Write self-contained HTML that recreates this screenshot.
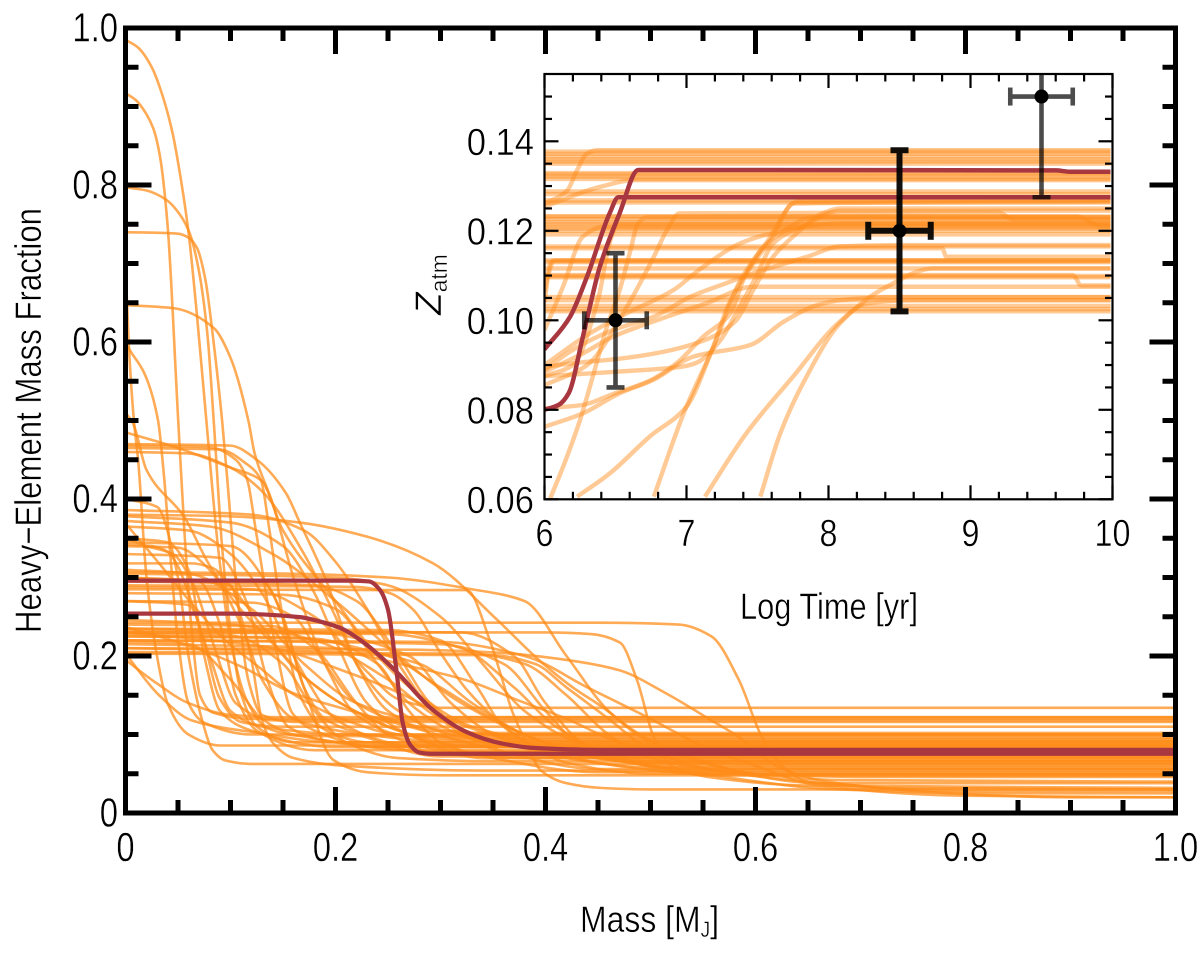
<!DOCTYPE html>
<html lang="en">
<head>
<meta charset="utf-8">
<title>Heavy-Element Mass Fraction vs Mass</title>
<style>
html,body{margin:0;padding:0;background:#fff;}
svg{display:block;}
text{font-family:"Liberation Sans",sans-serif;fill:#000;stroke:#fff;stroke-width:.45;}
.mass-line{fill:none;stroke:#ff8c1a;stroke-opacity:.74;stroke-width:2.6;stroke-linejoin:round;}
.time-line{fill:none;stroke:#ff8c1a;stroke-opacity:.46;stroke-width:4.4;stroke-linejoin:round;}
.red-mass{fill:none;stroke:#a8373f;stroke-width:4.2;}
.red-time{fill:none;stroke:#a8373f;stroke-width:4.5;}
</style>
</head>
<body>
<svg id="chart" xmlns="http://www.w3.org/2000/svg" width="1200" height="953" viewBox="0 0 1200 953">
  <defs>
    <clipPath id="main-clip"><rect x="125.5" y="28" width="1050" height="785"/></clipPath>
    <clipPath id="inset-clip"><rect x="544.5" y="74" width="566" height="425.3"/></clipPath>
  </defs>
  <rect x="0" y="0" width="1200" height="953" fill="#fff"/>
  <g id="main-series" clip-path="url(#main-clip)"></g>
  <g id="main-axes"></g>
  <rect x="544.5" y="74" width="568" height="425.3" fill="#fff"/>
  <g id="inset-series" clip-path="url(#inset-clip)"></g>
  <g id="inset-errors" clip-path="url(#inset-clip)"></g>
  <g id="inset-axes"></g>
  <text transform="translate(41,633) rotate(-90)" font-size="37" textLength="425" lengthAdjust="spacingAndGlyphs">Heavy−Element Mass Fraction</text>
  <text x="580" y="932" font-size="37" textLength="139" lengthAdjust="spacingAndGlyphs">Mass [M<tspan font-size="22" dy="5">J</tspan><tspan dy="-5">]</tspan></text>
  <text x="740" y="619" font-size="37" textLength="178" lengthAdjust="spacingAndGlyphs">Log Time [yr]</text>
  <text transform="translate(441,315) rotate(-90)" font-size="37"><tspan font-style="italic">Z</tspan><tspan font-size="23" dy="6">atm</tspan></text>
</svg>
<script>
const massTicksMajor = [0, 0.2, 0.4, 0.6, 0.8, 1.0];
const massTickLabels = ['0', '0.2', '0.4', '0.6', '0.8', '1.0'];
const fractionTicksMajor = [0, 0.2, 0.4, 0.6, 0.8, 1.0];
const fractionTickLabels = ['0', '0.2', '0.4', '0.6', '0.8', '1.0'];
const minorStepMain = 0.05;
const timeTicksMajor = [6, 7, 8, 9, 10];
const timeTickLabels = ['6', '7', '8', '9', '10'];
const zatmTicksMajor = [0.06, 0.08, 0.10, 0.12, 0.14];
const zatmTickLabels = ['0.06', '0.08', '0.10', '0.12', '0.14'];
const minorStepTime = 0.2;
const minorStepZatm = 0.005;

const massProfiles = [
[[0,.985],[.012,.975],[.025,.95],[.035,.915],[.045,.865],[.053,.805],[.06,.74],[.068,.635],[.077,.5],[.088,.34],[.1,.22],[.115,.145],[.135,.108],[.17,.098],[1,.098]],
[[0,.917],[.01,.908],[.02,.89],[.027,.87],[.033,.835],[.04,.75],[.05,.505],[.056,.361],[.063,.233],[.071,.15],[.083,.128],[.12,.12],[1,.12]],
[[0,.797],[.02,.793],[.039,.781],[.052,.762],[.061,.739],[.07,.69],[.078,.61],[.084,.5],[.092,.339],[.102,.212],[.111,.148],[.125,.11],[.16,.09],[1,.09]],
[[0,.74],[.05,.738],[.06,.733],[.068,.72],[.076,.68],[.083,.61],[.092,.5],[.097,.424],[.105,.297],[.117,.169],[.13,.125],[.16,.116],[1,.116]],
[[0,.647],[.046,.643],[.084,.618],[.1,.58],[.117,.5],[.123,.458],[.14,.395],[.16,.3],[.19,.19],[.22,.125],[.26,.1],[.32,.094],[1,.094]],
[[0,.6],[.004,.59],[.018,.56],[.031,.5],[.037,.424],[.042,.34],[.05,.22],[.06,.14],[.075,.115],[.12,.1],[1,.1]],
[[0,.7],[.003,.6],[.008,.5],[.012,.45],[.02,.3],[.03,.2],[.04,.14],[.06,.1],[.09,.086],[1,.086]],
[[0,.51],[.007,.497],[.02,.437],[.056,.377],[.079,.318],[.105,.267],[.143,.212],[.178,.165],[.21,.136],[.26,.105],[.33,.084],[1,.082]],
[[0,.485],[.05,.465],[.1,.44],[.129,.424],[.15,.36],[.2,.27],[.24,.2],[.28,.15],[.33,.11],[.4,.092],[1,.092]],
[[0,.47],[.1,.468],[.125,.45],[.153,.407],[.166,.37],[.19,.3],[.22,.19],[.25,.13],[.29,.105],[.35,.102],[1,.102]],
[[0,.46],[.06,.458],[.1,.44],[.13,.41],[.17,.33],[.2,.25],[.22,.19],[.26,.13],[.31,.1],[.38,.088],[1,.088]],
[[0,.468],[.08,.466],[.105,.45],[.116,.424],[.124,.361],[.137,.255],[.143,.212],[.159,.127],[.18,.105],[.24,.084],[1,.084]],
[[0,.465],[.09,.463],[.115,.445],[.129,.424],[.137,.361],[.149,.255],[.165,.153],[.19,.106],[.23,.09],[.3,.087],[1,.087]],
[[0,.38],[.1,.378],[.166,.37],[.23,.352],[.293,.318],[.354,.246],[.392,.197],[.426,.16],[.452,.137],[.49,.1],[.54,.07],[.6,.05],[.68,.042],[1,.04]],
[[0,.386],[.12,.38],[.17,.36],[.2,.32],[.23,.26],[.26,.19],[.3,.12],[.34,.09],[.42,.08],[1,.08]],
[[0,.378],[.1,.37],[.15,.34],[.18,.28],[.2,.22],[.23,.14],[.27,.1],[.33,.078],[1,.076]],
[[0,.372],[.08,.365],[.14,.33],[.2,.27],[.26,.2],[.32,.14],[.4,.09],[.5,.06],[.6,.05],[1,.05]],
[[0,.365],[.06,.36],[.1,.33],[.13,.28],[.16,.2],[.2,.12],[.25,.09],[.32,.074],[1,.074]],
[[0,.369],[.032,.318],[.063,.267],[.095,.22],[.127,.186],[.159,.152],[.21,.118],[.26,.1],[.33,.096],[1,.096]],
[[0,.34],[.05,.338],[.08,.31],[.11,.24],[.13,.17],[.16,.12],[.22,.1],[.3,.072],[1,.072]],
[[0,.342],[.025,.34],[.041,.332],[.05,.314],[.063,.268],[.076,.212],[.089,.148],[.11,.116],[.15,.11],[1,.11]],
[[0,.318],[.063,.318],[.083,.312],[.105,.281],[.127,.243],[.159,.187],[.19,.153],[.21,.136],[.26,.105],[.34,.07],[1,.07]],
[[0,.307],[.15,.305],[.25,.3],[.33,.285],[.38,.27],[.42,.2],[.46,.13],[.5,.09],[.56,.06],[.66,.038],[1,.038]],
[[0,.285],[.25,.284],[.325,.284],[.347,.22],[.357,.178],[.369,.127],[.382,.089],[.395,.055],[.42,.038],[.452,.032],[.5,.03],[1,.03]],
[[0,.305],[.2,.3],[.25,.29],[.3,.25],[.34,.19],[.38,.13],[.43,.09],[.5,.068],[1,.068]],
[[0,.295],[.18,.29],[.22,.27],[.26,.2],[.29,.14],[.33,.1],[.4,.08],[.5,.066],[1,.066]],
[[0,.28],[.15,.278],[.2,.26],[.24,.19],[.27,.14],[.32,.1],[.4,.08],[.5,.064],[1,.064]],
[[0,.27],[.12,.268],[.16,.25],[.19,.19],[.22,.14],[.28,.11],[.36,.1],[1,.1]],
[[0,.3],[.1,.29],[.11,.25],[.12,.195],[.13,.118],[.14,.09],[.16,.07],[.21,.06],[.35,.054],[1,.054]],
[[0,.298],[.13,.295],[.15,.25],[.17,.16],[.19,.12],[.23,.1],[.3,.092],[1,.092]],
[[0,.2424],[.45,.2424],[.527,.24],[.558,.225],[.584,.17],[.606,.097],[.625,.06],[.65,.04],[.72,.032],[1,.03]],
[[0,.23],[.4,.23],[.443,.228],[.471,.217],[.487,.17],[.503,.097],[.52,.06],[.56,.045],[.65,.035],[1,.032]],
[[0,.21],[.27,.208],[.357,.204],[.42,.195],[.47,.182],[.514,.153],[.558,.118],[.584,.097],[.62,.06],[.66,.042],[.75,.028],[.9,.02],[1,.02]],
[[0,.22],[.3,.218],[.38,.2],[.44,.16],[.5,.12],[.55,.085],[.6,.06],[.66,.035],[.8,.022],[1,.02]],
[[0,.203],[.35,.201],[.39,.19],[.42,.16],[.46,.12],[.5,.08],[.56,.055],[.65,.04],[.8,.028],[1,.028]],
[[0,.23],[.25,.228],[.32,.21],[.37,.16],[.41,.11],[.47,.07],[.55,.05],[.68,.03],[.85,.025],[1,.025]],
[[0,.225],[.15,.224],[.25,.2],[.3,.16],[.35,.12],[.4,.09],[.5,.065],[.6,.062],[1,.062]],
[[0,.215],[.2,.21],[.28,.19],[.33,.14],[.38,.1],[.45,.07],[.55,.06],[1,.06]],
[[0,.235],[.18,.23],[.27,.2],[.31,.14],[.35,.1],[.42,.07],[.5,.058],[1,.058]],
[[0,.237],[.063,.212],[.111,.186],[.159,.153],[.21,.132],[.27,.11],[.34,.085],[.45,.056],[1,.056]],
[[0,.203],[.032,.15],[.063,.118],[.127,.102],[.2,.09],[1,.09]],
[[0,.195],[.03,.165],[.06,.14],[.1,.125],[.15,.122],[1,.122]],
[[0,.4],[.03,.39],[.05,.3],[.06,.2],[.073,.118],[.083,.08],[.095,.067],[.12,.0625],[1,.0625]],
[[0,.345],[.1,.34],[.14,.28],[.17,.16],[.198,.0675],[.23,.052],[.3,.048],[1,.048]],
[[0,.3],[.07,.295],[.09,.24],[.105,.15],[.125,.105],[.18,.08],[1,.08]],
[[0,.35],[.04,.345],[.06,.31],[.075,.2],[.09,.13],[.12,.105],[.2,.084],[1,.084]],
[[0,.33],[.09,.325],[.115,.27],[.135,.17],[.155,.11],[.2,.09],[.3,.078],[1,.078]],
[[0,.24],[.14,.238],[.18,.21],[.22,.14],[.25,.1],[.3,.08],[.38,.07],[1,.07]],
[[0,.225],[.18,.222],[.24,.19],[.27,.13],[.3,.09],[.35,.07],[.45,.052],[1,.052]],
[[0,.235],[.25,.233],[.3,.22],[.335,.16],[.36,.11],[.4,.08],[.47,.06],[.55,.05],[1,.05]],
[[0,.22],[.3,.215],[.36,.19],[.4,.13],[.43,.09],[.48,.065],[.56,.048],[1,.048]],
[[0,.228],[.1,.226],[.15,.19],[.18,.13],[.21,.09],[.26,.07],[.35,.066],[1,.066]],
[[0,.218],[.06,.215],[.1,.17],[.13,.12],[.16,.1],[.25,.086],[1,.086]],
[[0,.205],[.33,.203],[.38,.19],[.42,.15],[.46,.1],[.5,.07],[.6,.05],[.7,.046],[1,.046]],
[[0,.232],[.32,.23],[.37,.2],[.4,.14],[.44,.085],[.5,.06],[.58,.056],[1,.056]],
[[0,.27],[.06,.265],[.08,.2],[.1,.13],[.13,.11],[.22,.1],[1,.1]],
[[0,.35],[.02,.34],[.045,.33],[.065,.29],[.085,.21],[.105,.14],[.14,.118],[1,.118]],
[[0,.288],[.12,.285],[.18,.25],[.23,.18],[.26,.145],[.3,.134],[1,.134]],
[[0,.31],[.06,.305],[.12,.26],[.17,.19],[.22,.14],[.27,.122],[1,.122]],
[[0,.29],[.22,.288],[.252,.28],[.274,.259],[.3,.204],[.325,.157],[.357,.115],[.388,.084],[.42,.064],[.5,.05],[1,.05]],
[[0,.21],[.2,.205],[.277,.185],[.325,.169],[.373,.144],[.42,.12],[.47,.09],[.54,.066],[1,.066]],
[[0,.23],[.14,.21],[.214,.178],[.261,.153],[.325,.11],[.38,.09],[.46,.072],[1,.072]],
[[0,.246],[.1,.24],[.18,.22],[.25,.17],[.3,.12],[.36,.09],[.46,.076],[1,.076]]
];
const redMassProfiles = [
[[0,.296],[.215,.296],[.232,.295],[.2424,.284],[.25,.259],[.258,.182],[.264,.115],[.271,.087],[.28,.077],[.29,.0755],[1,.0755]],
[[0,.254],[.1,.254],[.166,.2495],[.185,.244],[.204,.236],[.23,.214],[.258,.18],[.293,.131],[.325,.103],[.357,.089],[.388,.083],[.452,.0805],[1,.0805]]
];

const flatZatmLevels = [.1377,.1372,.1366,.136,.1355,.135,.1329,.1326,.1321,.1316,.1288,.1282,.1268,.1263,.1232,.1226,.122,.1215,.121,.1205,.12,.1192,.1165,.1134,.113,.1116,.1099,.1096,.1052,.1045,.1032,.1025,.102];
const timeProfiles = [
[[6,.0762],[6.27,.0792],[6.53,.0837],[6.76,.0866],[7.05,.0919],[7.45,.0945],[7.69,.0998],[7.92,.1034],[8.08,.1045],[8.5,.1052],[10,.1052]],
[[6,.0803],[6.27,.0811],[6.48,.0835],[6.74,.0865],[6.93,.0904],[7.12,.0964],[7.31,.1016],[7.4,.109],[7.52,.1156],[7.61,.1183],[7.9,.123],[10,.123]],
[[6,.0896],[6.2,.0904],[6.55,.0915],[6.9,.0934],[7.19,.0964],[7.35,.1],[7.47,.1068],[7.61,.1142],[7.75,.1187],[7.96,.1239],[8.08,.125],[10,.125]],
[[6,.0889],[6.2,.0934],[6.48,.0978],[6.77,.1008],[7.03,.1053],[7.28,.1083],[7.47,.1105],[7.85,.1142],[8.08,.1165],[8.5,.1168],[10,.1168]],
[[6,.09],[6.32,.0971],[6.58,.1016],[6.91,.1068],[7.09,.1113],[7.38,.1172],[7.56,.1191],[8.08,.1217],[10,.1217]],
[[6,.0885],[6.27,.0926],[6.48,.0963],[6.79,.1],[7.14,.1038],[7.47,.1075],[8.2,.1075],[10,.1075]],
[[6.04,.0602],[6.14,.068],[6.25,.0777],[6.34,.0874],[6.44,.0986],[6.53,.1068],[6.6,.115],[6.66,.1217],[6.72,.123],[10,.123]],
[[6,.0855],[6.3,.09],[6.58,.103],[6.77,.1142],[6.87,.1206],[6.95,.1239],[9.2,.1241],[9.3,.1225],[10,.1225]],
[[6.23,.0606],[6.46,.0658],[6.74,.074],[7,.0807],[7.17,.0926],[7.3,.1038],[7.47,.1127],[7.61,.1187],[7.75,.1261],[10,.1265]],
[[6.77,.0606],[6.98,.0792],[7.19,.0941],[7.38,.109],[7.56,.1172],[7.78,.1265],[10,.1268]],
[[7.13,.0606],[7.42,.0747],[7.75,.0874],[8.08,.0997],[8.27,.1038],[8.6,.1045],[10,.1045]],
[[7.52,.0606],[7.66,.0747],[7.82,.0859],[8.08,.0993],[8.41,.1075],[8.74,.1116],[10,.1116]],
[[6,.1065],[6.05,.1132],[6.11,.1132],[10,.1132]],
[[6,.104],[6.03,.1105],[6.07,.1134],[10,.1134]],
[[6,.1254],[6.39,.1298],[6.63,.1313],[10,.1313]],
[[6,.126],[6.16,.129],[6.23,.1336],[6.3,.1373],[6.37,.138],[10,.138]],
[[6,.0978],[6.13,.1075],[6.27,.1187],[6.41,.1209],[10,.1209]],
[[6,.0875],[6.2,.09],[6.38,.105],[6.46,.1175],[6.52,.1215],[10,.1215]],
[[6,.0875],[6.5,.0885],[6.96,.0896],[7.07,.0905],[7.24,.0956],[7.35,.1016],[7.49,.1097],[7.61,.1172],[7.85,.1215],[8.08,.1245],[10,.1245]],
[[6,.1161],[8.8,.1161],[8.83,.1142],[10,.1142]],
[[6,.1101],[9.72,.1101],[9.78,.1078],[10,.1078]],
[[6,.1232],[9.75,.1232],[9.9,.1212],[10,.121]]
];
const redTimeProfiles = [
[[6,.0935],[6.18,.1008],[6.3,.1098],[6.46,.124],[6.52,.1275],[10,.1275]],
[[6,.08],[6.1,.0811],[6.17,.0837],[6.27,.0963],[6.39,.112],[6.53,.124],[6.66,.1336],[9.6,.1335],[9.7,.1332],[10,.1332]]
];

const obsLogTime = [6.5, 8.5, 9.5];
const obsZatm = [0.10, 0.12, 0.15];
const obsTimeErr = [0.22, 0.22, 0.22];
const obsZatmErr = [0.015, 0.018, 0.0225];
const obsOpacityStyle = [0.72, 0.93, 0.7];
const obsWidthStyle = [4.6, 6, 4.6];

const SVGNS = 'http://www.w3.org/2000/svg';
const massX = m => 125.5 + m * 1050;
const fracY = z => 813 - z * 785;
const timeX = t => 544.5 + (t - 6) * 142;
const zatmY = z => 499.3 - (z - 0.06) * 4475;

function smoothPath(pts, sx, sy) {
  const n = pts.length;
  const sec = [];
  for (let i = 0; i < n - 1; i++) sec.push((pts[i + 1][1] - pts[i][1]) / (pts[i + 1][0] - pts[i][0]));
  const tan = [sec[0]];
  for (let i = 1; i < n - 1; i++) {
    if (sec[i - 1] * sec[i] <= 0) { tan.push(0); continue; }
    const h0 = pts[i][0] - pts[i - 1][0], h1 = pts[i + 1][0] - pts[i][0];
    const w0 = 2 * h1 + h0, w1 = h1 + 2 * h0;
    tan.push((w0 + w1) / (w0 / sec[i - 1] + w1 / sec[i]));
  }
  tan.push(sec[n - 2]);
  let d = 'M' + sx(pts[0][0]).toFixed(2) + ' ' + sy(pts[0][1]).toFixed(2);
  for (let i = 0; i < n - 1; i++) {
    const h = pts[i + 1][0] - pts[i][0];
    d += 'C' + sx(pts[i][0] + h / 3).toFixed(2) + ' ' + sy(pts[i][1] + tan[i] * h / 3).toFixed(2) + ' ' +
         sx(pts[i + 1][0] - h / 3).toFixed(2) + ' ' + sy(pts[i + 1][1] - tan[i + 1] * h / 3).toFixed(2) + ' ' +
         sx(pts[i + 1][0]).toFixed(2) + ' ' + sy(pts[i + 1][1]).toFixed(2);
  }
  return d;
}
function seg(parent, x1, y1, x2, y2, w) {
  const l = document.createElementNS(SVGNS, 'line');
  l.setAttribute('x1', x1); l.setAttribute('y1', y1);
  l.setAttribute('x2', x2); l.setAttribute('y2', y2);
  l.setAttribute('stroke', '#000'); l.setAttribute('stroke-width', w);
  parent.appendChild(l);
  return l;
}
function txt(parent, x, y, s, size, scale, anchor) {
  const t = document.createElementNS(SVGNS, 'text');
  t.setAttribute('transform', 'translate(' + x + ',' + y + ') scale(' + scale + ',1)');
  t.setAttribute('font-size', size);
  t.setAttribute('text-anchor', anchor);
  t.textContent = s;
  parent.appendChild(t);
  return t;
}
const mainSeries = document.getElementById('main-series');
massProfiles.forEach((p, i) => {
  const el = document.createElementNS(SVGNS, 'path');
  el.setAttribute('class', 'mass-line');
  el.setAttribute('d', smoothPath(p, massX, fracY));
  
  
  mainSeries.appendChild(el);
});
redMassProfiles.forEach((p, i) => {
  const el = document.createElementNS(SVGNS, 'path');
  el.setAttribute('class', 'red-mass');
  el.setAttribute('d', smoothPath(p, massX, fracY));
  
  
  mainSeries.appendChild(el);
});
const insetSeries = document.getElementById('inset-series');
flatZatmLevels.forEach((z, i) => {
  const el = document.createElementNS(SVGNS, 'path');
  el.setAttribute('class', 'time-line');
  el.setAttribute('d', 'M' + timeX(6) + ' ' + zatmY(z) + 'L' + timeX(10) + ' ' + zatmY(z));
  
  
  insetSeries.appendChild(el);
});
timeProfiles.forEach((p, i) => {
  const el = document.createElementNS(SVGNS, 'path');
  el.setAttribute('class', 'time-line');
  el.setAttribute('d', smoothPath(p, timeX, zatmY));
  
  
  insetSeries.appendChild(el);
});
redTimeProfiles.forEach((p, i) => {
  const el = document.createElementNS(SVGNS, 'path');
  el.setAttribute('class', 'red-time');
  el.setAttribute('d', smoothPath(p, timeX, zatmY));
  
  
  insetSeries.appendChild(el);
});
const errs = document.getElementById('inset-errors');
obsLogTime.forEach((t, i) => {
  const g = document.createElementNS(SVGNS, 'g');
  g.setAttribute('opacity', obsOpacityStyle[i]);
  
  
  const w = obsWidthStyle[i], x = timeX(t), y = zatmY(obsZatm[i]);
  const xa = timeX(t - obsTimeErr[i]), xb = timeX(t + obsTimeErr[i]);
  const ya = zatmY(obsZatm[i] - obsZatmErr[i]), yb = zatmY(obsZatm[i] + obsZatmErr[i]);
  seg(g, xa, y, xb, y, w);
  seg(g, x, ya, x, yb, w);
  seg(g, xa, y - 9, xa, y + 9, w);
  seg(g, xb, y - 9, xb, y + 9, w);
  seg(g, x - 9, ya, x + 9, ya, w);
  seg(g, x - 9, yb, x + 9, yb, w);
  errs.appendChild(g);
  const c = document.createElementNS(SVGNS, 'circle');
  c.setAttribute('cx', x);
  c.setAttribute('cy', y);
  c.setAttribute('r', 7);
  c.setAttribute('fill', '#000');
  
  
  errs.appendChild(c);
});

const mainAxes = document.getElementById('main-axes');
for (let v = 0; v <= 1.0001; v += minorStepMain) {
  const isMajor = massTicksMajor.some(m => Math.abs(m - v) < 1e-6);
  const len = isMajor ? 26 : 13;
  seg(mainAxes, massX(v), 813, massX(v), 813 - len, 5);
  seg(mainAxes, massX(v), 28, massX(v), 28 + len, 5);
  seg(mainAxes, 125.5, fracY(v), 125.5 + len, fracY(v), 5);
  seg(mainAxes, 1175.5, fracY(v), 1175.5 - len, fracY(v), 5);
}
const mainFrame = document.createElementNS(SVGNS, 'rect');
mainFrame.setAttribute('x', 125.5); mainFrame.setAttribute('y', 28);
mainFrame.setAttribute('width', 1050); mainFrame.setAttribute('height', 785);
mainFrame.setAttribute('fill', 'none'); mainFrame.setAttribute('stroke', '#000'); mainFrame.setAttribute('stroke-width', 5);


mainAxes.appendChild(mainFrame);
massTicksMajor.forEach((v, i) => {
  const t = txt(mainAxes, massX(v), 861, massTickLabels[i], 41, 0.8, 'middle');
  
  
});
fractionTicksMajor.forEach((v, i) => {
  const t = txt(mainAxes, 118, fracY(v) + 13.5, fractionTickLabels[i], 41, 0.8, 'end');
  
  
});

const insetAxes = document.getElementById('inset-axes');
for (let v = 6; v <= 10.001; v += minorStepTime) {
  const isMajor = timeTicksMajor.some(m => Math.abs(m - v) < 1e-6);
  const len = isMajor ? 14 : 7.5;
  seg(insetAxes, timeX(v), 499.3, timeX(v), 499.3 - len, 2.2);
  seg(insetAxes, timeX(v), 74, timeX(v), 74 + len, 2.2);
}
for (let v = 0.06; v <= 0.155; v += minorStepZatm) {
  const isMajor = zatmTicksMajor.some(m => Math.abs(m - v) < 1e-6);
  const len = isMajor ? 14 : 7.5;
  seg(insetAxes, 544.5, zatmY(v), 544.5 + len, zatmY(v), 2.2);
  seg(insetAxes, 1112.5, zatmY(v), 1112.5 - len, zatmY(v), 2.2);
}
const insetFrame = document.createElementNS(SVGNS, 'rect');
insetFrame.setAttribute('x', 544.5); insetFrame.setAttribute('y', 74);
insetFrame.setAttribute('width', 568); insetFrame.setAttribute('height', 425.3);
insetFrame.setAttribute('fill', 'none'); insetFrame.setAttribute('stroke', '#000'); insetFrame.setAttribute('stroke-width', 2.2);


insetAxes.appendChild(insetFrame);
timeTicksMajor.forEach((v, i) => {
  const t = txt(insetAxes, timeX(v), 546, timeTickLabels[i], 38, 0.85, 'middle');
  
  
});
zatmTicksMajor.forEach((v, i) => {
  const t = txt(insetAxes, 534, zatmY(v) + 13.5, zatmTickLabels[i], 38, 0.91, 'end');
  
  
});
</script>
</body>
</html>
